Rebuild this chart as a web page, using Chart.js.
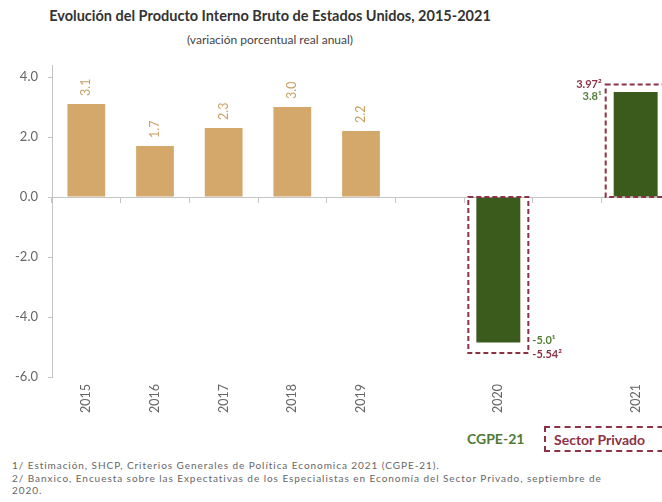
<!DOCTYPE html>
<html lang="es">
<head>
<meta charset="utf-8">
<title>PIB Estados Unidos 2015-2021</title>
<script src="https://cdn.jsdelivr.net/npm/chart.js@4.4.0/dist/chart.umd.min.js"></script>
<style>
    html, body { margin: 0; padding: 0; width: 662px; height: 502px; overflow: hidden; background: #fff; }
    #wrap { position: absolute; left: 0; top: 0; width: 670px; height: 420px; }
    .titulo { position: absolute; left: 0; width: 540px; text-align: center; font-family: Lato, sans-serif; color: #333; }
    #t1 { top: 7px; font-size: 14.5px; font-weight: bold; }
    #t2 { top: 32px; font-size: 12px; color: #444; }
    #cgpe { position: absolute; left: 467px; top: 430px; font: bold 14px Lato, sans-serif; color: #4e7a35; }
    #privado { position: absolute; left: 544px; top: 426px; width: 140px; height: 26px; border: 2px dashed #8c3246;
               font: bold 14px Lato, sans-serif; color: #8c3246; line-height: 24px; padding-left: 8px; box-sizing: border-box; }
    #notas { position: absolute; left: 12px; top: 459px; font: 10px Lato, sans-serif; letter-spacing: 0.95px; color: #666; line-height: 12.5px; white-space: nowrap; }
</style>
</head>
<body>
<div id="t1" class="titulo">Evolución del Producto Interno Bruto de Estados Unidos, 2015-2021</div>
<div id="t2" class="titulo">(variación porcentual real anual)</div>
<div id="wrap"><canvas id="grafica" width="670" height="420"></canvas></div>
<div id="cgpe">CGPE-21</div>
<div id="privado">Sector Privado</div>
<div id="notas">
    1/ Estimación, SHCP, Criterios Generales de Política Economica 2021 (CGPE-21).<br>
    2/ Banxico, Encuesta sobre las Expectativas de los Especialistas en Economía del Sector Privado, septiembre de<br>
    2020.
</div>

<script>
// --- DATOS ---
const anios = ['2015', '2016', '2017', '2018', '2019', '', '2020', '', '2021'];
const observado = [3.1, 1.7, 2.3, 3.0, 2.2, null, null, null, null];
const cgpe = [null, null, null, null, null, null, -4.85, null, 3.5];
const privado = [null, null, null, null, null, null, -5.2, null, 3.75];
const etiquetaCgpe = [null, null, null, null, null, null, '-5.0¹', null, '3.8¹'];
const etiquetaPrivado = [null, null, null, null, null, null, '-5.54²', null, '3.97²'];
const ticksY = [-6, -4, -2, 0, 2, 4];

const dorado = '#d4a86b';
const verde = '#3b5b1d';
const verdeTexto = '#557f38';
const granate = '#8c3246';
const gris = '#c4c4c4';

// Etiquetas de valores y recuadros punteados
const etiquetas = {
    id: 'etiquetas',
    afterDatasetsDraw(chart) {
        const ctx = chart.ctx;
        const x = chart.scales.x;
        const y = chart.scales.y;

        // valores rotados sobre las barras doradas
        chart.getDatasetMeta(0).data.forEach((bar, i) => {
            if (observado[i] == null) return;
            ctx.save();
            ctx.translate(bar.x, bar.y - 8);
            ctx.rotate(-Math.PI / 2);
            ctx.fillStyle = '#c9a064';
            ctx.font = '12.5px Lato';
            ctx.textAlign = 'left';
            ctx.textBaseline = 'middle';
            ctx.fillText(observado[i].toFixed(1), 0, 0);
            ctx.restore();
        });

        // recuadros del sector privado
        const barras = chart.getDatasetMeta(1).data;
        privado.forEach((v, i) => {
            if (v == null) return;
            const cx = x.getPixelForValue(i);
            const mitad = 30;
            const y0 = y.getPixelForValue(0);
            const y1 = y.getPixelForValue(v);
            ctx.save();
            ctx.setLineDash([5, 3]);
            ctx.lineWidth = 2;
            ctx.strokeStyle = granate;
            ctx.strokeRect(cx - mitad, Math.min(y0, y1), mitad * 2, Math.abs(y1 - y0));
            ctx.setLineDash([]);

            ctx.font = 'bold 11px Lato';
            ctx.textBaseline = 'middle';
            const yb = barras[i].y;
            if (v < 0) {
                ctx.textAlign = 'left';
                ctx.fillStyle = verdeTexto;
                ctx.fillText(etiquetaCgpe[i], cx + mitad + 4, yb - 2);
                ctx.fillStyle = granate;
                ctx.fillText(etiquetaPrivado[i], cx + mitad + 4, y1 + 1);
            } else {
                ctx.textAlign = 'right';
                ctx.fillStyle = granate;
                ctx.fillText(etiquetaPrivado[i], cx - mitad - 4, y1);
                ctx.fillStyle = verdeTexto;
                ctx.fillText(etiquetaCgpe[i], cx - mitad - 4, y1 + 12);
            }
            ctx.restore();
        });
    }
};

new Chart(document.getElementById('grafica'), {
    type: 'bar',
    data: {
        labels: anios,
        datasets: [
            { label: 'Observado', data: observado, backgroundColor: dorado,
              grouped: false, categoryPercentage: 1, barPercentage: 0.55 },
            { label: 'CGPE-21', data: cgpe, backgroundColor: verde,
              grouped: false, categoryPercentage: 1, barPercentage: 0.64 }
        ]
    },
    options: {
        responsive: false,
        animation: false,
        devicePixelRatio: 1,
        layout: { padding: { top: 65, left: 0, right: 0, bottom: 0 } },
        plugins: { legend: { display: false }, title: { display: false }, tooltip: { enabled: false } },
        scales: {
            x: {
                grid: { display: false, drawTicks: false },
                border: { display: false },
                ticks: { color: '#666', font: { family: 'Lato', size: 12.5 }, minRotation: 90, maxRotation: 90, padding: 7, autoSkip: false },
                afterFit: s => { s.height = 43; }
            },
            x2: {
                type: 'category',
                position: { y: 0 },
                offset: true,
                grid: { offset: true, drawOnChartArea: false, drawTicks: true, tickLength: 5, color: gris },
                border: { color: gris },
                ticks: { display: false },
                afterFit: s => { s.height = 0; }
            },
            y: {
                min: -6,
                max: 4.4,
                afterBuildTicks: s => { s.ticks = ticksY.map(v => ({ value: v })); },
                grid: { drawOnChartArea: false, drawTicks: true, tickLength: 4, color: gris },
                border: { color: gris },
                ticks: { color: '#666', font: { family: 'Lato', size: 13 }, padding: 10, callback: v => v.toFixed(1) },
                afterFit: s => { s.width = 52; }
            }
        }
    },
    plugins: [etiquetas]
});
</script>
</body>
</html>
